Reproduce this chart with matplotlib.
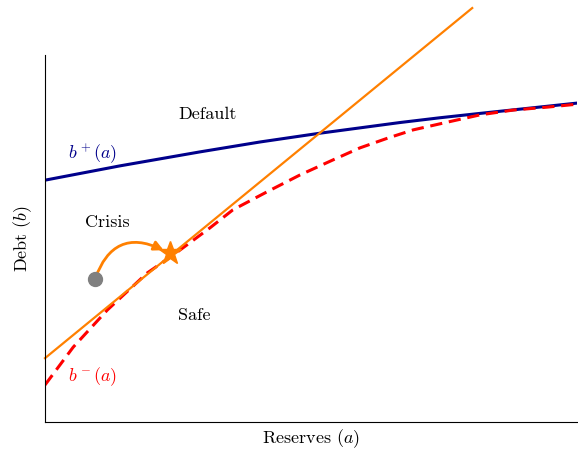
import numpy as np
import matplotlib
matplotlib.use("Agg")
import matplotlib.pyplot as plt

plt.rcParams['font.family'] = 'serif'
plt.rcParams['font.serif'] = ['cmr10']
plt.rcParams['mathtext.fontset'] = 'cm'
plt.rcParams['axes.formatter.use_mathtext'] = True

# upper threshold b+(a)
bp_x = [0, 0.141, 0.291, 0.404, 0.517, 0.667, 0.742, 0.818, 1.0]
bp_y = [0.659, 0.698, 0.736, 0.763, 0.787, 0.816, 0.829, 0.841, 0.869]

# lower threshold b-(a)
bm_x = [0, 0.053, 0.117, 0.192, 0.241, 0.310, 0.353, 0.417, 0.479, 0.541,
        0.592, 0.645, 0.692, 0.756, 0.818, 0.880, 0.944, 1.0]
bm_y = [0.101, 0.204, 0.305, 0.406, 0.455, 0.529, 0.578, 0.627, 0.673, 0.714,
        0.747, 0.774, 0.796, 0.817, 0.837, 0.850, 0.858, 0.866]

# orange line endpoints
line_x = [0, 0.803]
line_y = [0.174, 1.128]

dot = (0.094, 0.390)
star = (0.235, 0.460)

fig = plt.figure(figsize=(5.78, 4.51), dpi=100)
ax = fig.add_axes([0.0779, 0.0643, 0.9204, 0.8137])

ax.plot(bp_x, bp_y, color='#00008B', lw=2.2)
ax.plot(bm_x, bm_y, color='#FF0000', lw=2.2, dashes=(4, 2.2))
ax.plot(line_x, line_y, color='#FF8000', lw=1.6, clip_on=False)

ax.annotate('', xy=(star[0] - 0.012, star[1] + 0.008), xytext=dot,
            arrowprops=dict(arrowstyle='-|>', color='#FF8000', lw=2,
                            connectionstyle='arc3,rad=-0.55', mutation_scale=14,
                            shrinkA=0, shrinkB=0))
ax.plot(*dot, 'o', color='#808080', ms=10, zorder=5)
ax.plot(*star, '*', color='#FF8000', ms=17, zorder=5)

fs = 13
ax.text(0.305, 0.839, 'Default', ha='center', va='center', fontsize=fs)
ax.text(0.090, 0.730, '$b^+(a)$', ha='center', va='center', fontsize=fs, color='#00008B')
ax.text(0.117, 0.545, 'Crisis', ha='center', va='center', fontsize=fs)
ax.text(0.280, 0.292, 'Safe', ha='center', va='center', fontsize=fs)
ax.text(0.090, 0.123, '$b^-(a)$', ha='center', va='center', fontsize=fs, color='#FF0000')

ax.set_xlim(0, 1)
ax.set_ylim(0, 1)
ax.set_xticks([])
ax.set_yticks([])
ax.spines['top'].set_visible(False)
ax.spines['right'].set_visible(False)
ax.set_xlabel('Reserves $(a)$', fontsize=fs, labelpad=4)
ax.set_ylabel('Debt $(b)$', fontsize=fs, labelpad=8)

fig.savefig('out.png', dpi=100)
